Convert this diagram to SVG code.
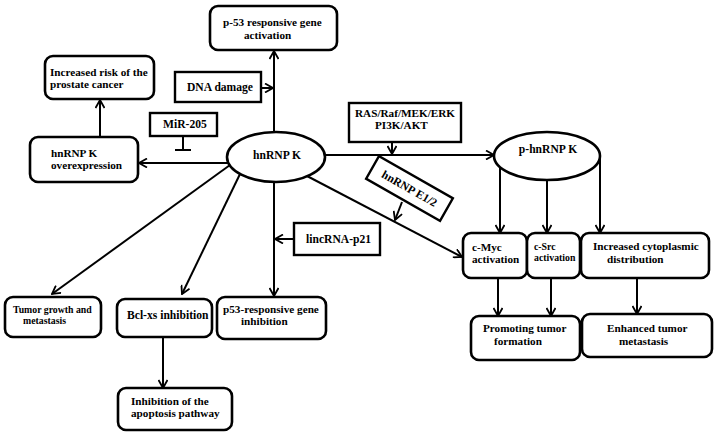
<svg xmlns="http://www.w3.org/2000/svg" width="718" height="436" viewBox="0 0 718 436">
<defs>
<style>
text{font-family:"Liberation Serif","Times New Roman",serif;font-weight:bold;font-size:11.6px;fill:#000}
.m{font-size:11.2px}
.s{font-size:9.8px}
.rb{fill:#fff;stroke:#000;stroke-width:2.6}
.sq{fill:#fff;stroke:#000;stroke-width:2.4}
.c{fill:none;stroke:#000;stroke-width:2}
.c.a{marker-end:url(#ah)}
</style>
<marker id="ah" viewBox="0 0 10 10" refX="9" refY="5" markerWidth="10" markerHeight="10" markerUnits="userSpaceOnUse" orient="auto">
<path d="M1,0.5 L9,5 L1,9.5" fill="none" stroke="#000" stroke-width="1.8"/>
</marker>
</defs>
<rect width="718" height="436" fill="#fff"/>
<g id="connectors">
<line class="c a" x1="274" y1="132" x2="274" y2="51"/>
<line class="c a" x1="261" y1="88" x2="273" y2="88"/>
<line class="c a" x1="100" y1="137" x2="100" y2="100"/>
<line class="c a" x1="228" y1="163" x2="139" y2="163"/>
<line class="c" x1="183" y1="136" x2="183" y2="150"/>
<line class="c" x1="175" y1="150" x2="191" y2="150"/>
<line class="c a" x1="325" y1="155" x2="494" y2="155"/>
<line class="c a" x1="392" y1="142" x2="392" y2="154"/>
<line class="c a" x1="402" y1="202" x2="395" y2="220"/>
<line class="c a" x1="307" y1="176" x2="462" y2="257"/>
<line class="c a" x1="500" y1="166" x2="500" y2="233"/>
<line class="c a" x1="547" y1="180" x2="547" y2="233"/>
<line class="c a" x1="600" y1="157" x2="600" y2="233"/>
<line class="c a" x1="498" y1="278" x2="498" y2="316"/>
<line class="c a" x1="551" y1="278" x2="551" y2="316"/>
<line class="c a" x1="637" y1="278" x2="637" y2="314"/>
<line class="c a" x1="230" y1="165" x2="52" y2="294"/>
<line class="c a" x1="240" y1="174" x2="182" y2="294"/>
<line class="c a" x1="274" y1="182" x2="274" y2="296"/>
<line class="c a" x1="294" y1="239" x2="275" y2="239"/>
<line class="c a" x1="163" y1="337" x2="163" y2="388"/>
</g>
<g id="p53act"><rect class="rb" x="210" y="6" width="127" height="44" rx="8"/><text class="m" x="223" y="26">p-53 responsive gene</text><text class="m" x="244" y="38.5">activation</text></g>
<g id="risk"><rect class="rb" x="45" y="56" width="109" height="43" rx="8"/><text class="m" x="50" y="75.5">Increased risk of the</text><text class="m" x="50" y="88">prostate cancer</text></g>
<g id="dna"><rect class="sq" x="175" y="72" width="86" height="30"/><text x="187" y="91">DNA damage</text></g>
<g id="mir205"><rect class="sq" x="150" y="113" width="67" height="23"/><text x="163" y="128">MiR-205</text></g>
<g id="overexp"><rect class="rb" x="30" y="137" width="108" height="45" rx="8"/><text class="m" x="51" y="156.5">hnRNP K</text><text class="m" x="51" y="169">overexpression</text></g>
<g id="hnrnpk"><ellipse class="rb" cx="276" cy="157" rx="49" ry="25"/><text x="277" y="159" text-anchor="middle">hnRNP K</text></g>
<g id="ras"><rect class="sq" x="349" y="103" width="112" height="39"/><text class="m" x="355" y="116.5">RAS/Raf/MEK/ERK</text><text class="m" x="375" y="129">PI3K/AKT</text></g>
<g id="phnrnpk"><ellipse class="rb" cx="547" cy="156" rx="53" ry="24"/><text x="548" y="153" text-anchor="middle">p-hnRNP K</text></g>
<g id="e12" transform="translate(409.5 188.5) rotate(29.6)"><rect class="sq" x="-42.5" y="-13" width="85" height="26"/><text x="0" y="4" text-anchor="middle">hnRNP E1/2</text></g>
<g id="linc"><rect class="sq" x="294" y="223" width="86" height="32"/><text x="306" y="243">lincRNA-p21</text></g>
<g id="cmyc"><rect class="rb" x="463" y="233" width="64" height="45" rx="8"/><text class="m" x="472" y="250.5">c-Myc</text><text class="m" x="472" y="263">activation</text></g>
<g id="csrc"><rect class="rb" x="527" y="233" width="53" height="45" rx="8"/><text class="s" x="534" y="250">c-Src</text><text class="s" x="534" y="261">activation</text></g>
<g id="cyto"><rect class="rb" x="581" y="233" width="128" height="45" rx="8"/><text class="m" x="593" y="250">Increased cytoplasmic</text><text class="m" x="607" y="262.5">distribution</text></g>
<g id="promo"><rect class="rb" x="471" y="316" width="109" height="44" rx="8"/><text class="m" x="483" y="332">Promoting tumor</text><text class="m" x="494" y="344.5">formation</text></g>
<g id="meta"><rect class="rb" x="582" y="314" width="130" height="43" rx="8"/><text class="m" x="607" y="332">Enhanced tumor</text><text class="m" x="619" y="344.5">metastasis</text></g>
<g id="tumor"><rect class="rb" x="5" y="297" width="96" height="40" rx="8"/><text class="s" x="13" y="312.5">Tumor growth and</text><text class="s" x="23" y="323.5">metastasis</text></g>
<g id="bcl"><rect class="rb" x="117" y="299" width="95" height="38" rx="8"/><text x="127" y="319">Bcl-xs inhibition</text></g>
<g id="p53inh"><rect class="rb" x="217" y="297" width="109" height="42" rx="8"/><text class="m" x="223" y="312.5">p53-responsive gene</text><text class="m" x="241" y="325">inhibition</text></g>
<g id="apop"><rect class="rb" x="118" y="388" width="114" height="42" rx="8"/><text class="m" x="131" y="404.5">Inhibition of the</text><text class="m" x="131" y="417">apoptosis pathway</text></g>
</svg>
